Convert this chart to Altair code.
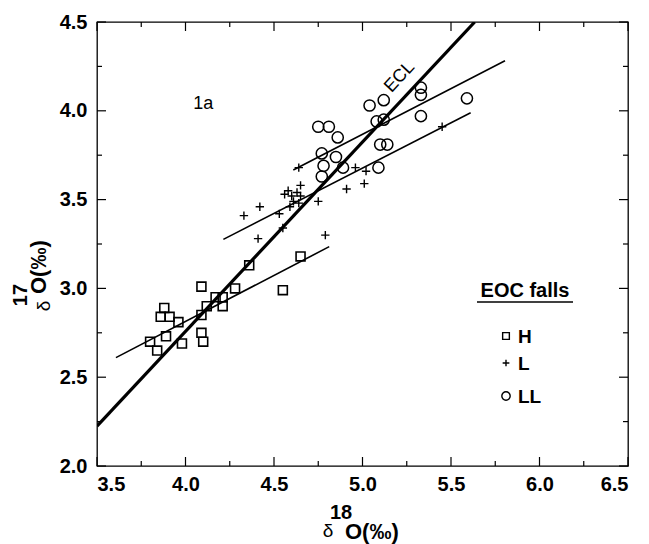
import altair as alt
import pandas as pd

# --- measured oxygen isotope data (per mil) ---
h_d18 = [3.80, 3.84, 3.88, 3.86, 3.91, 3.96, 3.89, 3.98, 4.09, 4.09, 4.09, 4.10,
         4.12, 4.17, 4.21, 4.21, 4.28, 4.36, 4.55, 4.65]
h_d17 = [2.70, 2.65, 2.89, 2.84, 2.84, 2.81, 2.73, 2.69, 3.01, 2.85, 2.75, 2.70,
         2.90, 2.95, 2.95, 2.90, 3.00, 3.13, 2.99, 3.18]

l_d18 = [4.33, 4.42, 4.41, 4.53, 4.55, 4.56, 4.58, 4.60, 4.63, 4.65, 4.61, 4.64,
         4.59, 4.65, 4.64, 4.75, 4.79, 4.91, 4.96, 5.01, 5.02, 5.45]
l_d17 = [3.41, 3.46, 3.28, 3.42, 3.34, 3.53, 3.55, 3.52, 3.54, 3.52, 3.49, 3.48,
         3.46, 3.58, 3.68, 3.49, 3.30, 3.56, 3.68, 3.59, 3.66, 3.91]

ll_d18 = [5.04, 5.12, 5.33, 5.33, 5.59, 5.08, 5.12, 5.33, 4.75, 4.81, 4.86, 5.10,
          5.14, 4.77, 4.85, 4.78, 4.77, 4.89, 5.09]
ll_d17 = [4.03, 4.06, 4.13, 4.09, 4.07, 3.94, 3.95, 3.97, 3.91, 3.91, 3.85, 3.81,
          3.81, 3.76, 3.74, 3.69, 3.63, 3.68, 3.68]

# --- fitted lines (end points) ---
ecl_d18 = [3.50, 5.634]
ecl_d17 = [2.225, 4.50]
h_fit_d18 = [3.607, 4.812]
h_fit_d17 = [2.610, 3.235]
l_fit_d18 = [4.214, 5.611]
l_fit_d17 = [3.276, 3.989]
ll_fit_d18 = [4.609, 5.805]
ll_fit_d17 = [3.667, 4.282]

# --- axis ticks ---
x_major = [3.5, 4.0, 4.5, 5.0, 5.5, 6.0, 6.5]
x_minor = [3.75, 4.25, 4.75, 5.25, 5.75, 6.25]
y_major = [2.0, 2.5, 3.0, 3.5, 4.0, 4.5]
y_minor = [2.25, 2.75, 3.25, 3.75, 4.25]

legend_title = "EOC falls"
legend_labels = ["H", "L", "LL"]

W, H = 531, 444
FONT = "Liberation Sans"
PLUS = "M-1,0L1,0M0,-1L0,1"

xscale = alt.Scale(domain=[3.5, 6.5], nice=False, zero=False)
yscale = alt.Scale(domain=[2.0, 4.5], nice=False, zero=False)
xaxis = alt.Axis(values=x_major, format=".1f", title=None, grid=False, ticks=False,
                 tickSize=0, domain=False, labelFont=FONT, labelFontSize=20,
                 labelFontWeight="bold", labelColor="black", labelPadding=8)
yaxis = alt.Axis(values=y_major, format=".1f", title=None, grid=False, ticks=False,
                 tickSize=0, domain=False, labelFont=FONT, labelFontSize=20,
                 labelFontWeight="bold", labelColor="black", labelPadding=10)


def X(field):
    return alt.X(f"{field}:Q", scale=xscale, axis=xaxis)


def Y(field):
    return alt.Y(f"{field}:Q", scale=yscale, axis=yaxis)


def pts(xs, ys):
    return pd.DataFrame({"d18": xs, "d17": ys})


layers = []

# fitted lines
for xs, ys, w in [(h_fit_d18, h_fit_d17, 1.6), (l_fit_d18, l_fit_d17, 1.6),
                  (ll_fit_d18, ll_fit_d17, 1.6), (ecl_d18, ecl_d17, 3.2)]:
    layers.append(
        alt.Chart(pts(xs, ys)).mark_line(color="black", strokeWidth=w, clip=True)
        .encode(x=X("d18"), y=Y("d17"))
    )

# data points
layers.append(alt.Chart(pts(h_d18, h_d17)).mark_point(
    shape="square", size=80, filled=False, color="black", strokeWidth=1.6, opacity=1
).encode(x=X("d18"), y=Y("d17")))
layers.append(alt.Chart(pts(l_d18, l_d17)).mark_point(
    shape=PLUS, size=70, filled=False, color="black", strokeWidth=1.4, opacity=1
).encode(x=X("d18"), y=Y("d17")))
layers.append(alt.Chart(pts(ll_d18, ll_d17)).mark_point(
    shape="circle", size=125, filled=False, color="black", strokeWidth=1.5, opacity=1
).encode(x=X("d18"), y=Y("d17")))

# inward tick marks on all four sides
for vals, ln in [(x_major, 9), (x_minor, 5)]:
    df = pd.DataFrame({"d18": vals})
    layers.append(alt.Chart(df).mark_rule(color="black", strokeWidth=1.2)
                  .encode(x=X("d18"), y=alt.value(H), y2=alt.value(H - ln)))
    layers.append(alt.Chart(df).mark_rule(color="black", strokeWidth=1.2)
                  .encode(x=X("d18"), y=alt.value(0), y2=alt.value(ln)))
for vals, ln in [(y_major, 9), (y_minor, 5)]:
    df = pd.DataFrame({"d17": vals})
    layers.append(alt.Chart(df).mark_rule(color="black", strokeWidth=1.2)
                  .encode(y=Y("d17"), x=alt.value(0), x2=alt.value(ln)))
    layers.append(alt.Chart(df).mark_rule(color="black", strokeWidth=1.2)
                  .encode(y=Y("d17"), x=alt.value(W), x2=alt.value(W - ln)))

base = alt.Chart(pd.DataFrame({"a": [0]}))

# panel label and line label
layers.append(base.mark_text(text="1a", font=FONT, fontSize=18, color="black")
              .encode(x=alt.datum(4.10, scale=xscale), y=alt.datum(4.04, scale=yscale)))
layers.append(base.mark_text(text="ECL", font=FONT, fontSize=18, color="black", angle=313)
              .encode(x=alt.datum(5.21, scale=xscale), y=alt.datum(4.19, scale=yscale)))

# legend
layers.append(base.mark_text(text=legend_title, font=FONT, fontSize=20, fontWeight="bold",
                             color="black", align="center", baseline="middle")
              .encode(x=alt.value(428), y=alt.value(269)))
layers.append(base.mark_rule(color="black", strokeWidth=1.6)
              .encode(x=alt.value(380), x2=alt.value(476), y=alt.value(280)))
for lab, shape, size, ypix in [(legend_labels[0], "square", 45, 314),
                               (legend_labels[1], PLUS, 45, 341),
                               (legend_labels[2], "circle", 70, 374)]:
    layers.append(base.mark_point(shape=shape, size=size, filled=False, color="black",
                                  strokeWidth=1.4, opacity=1)
                  .encode(x=alt.value(409), y=alt.value(ypix)))
    layers.append(base.mark_text(text=lab, font=FONT, fontSize=19, fontWeight="bold",
                                 color="black", align="left", baseline="middle")
                  .encode(x=alt.value(421), y=alt.value(ypix + 1)))

# axis titles with superscript mass numbers
layers.append(base.mark_text(text="δ", font=FONT, fontSize=19, color="black",
                             align="center", baseline="middle")
              .encode(x=alt.value(231), y=alt.value(509)))
layers.append(base.mark_text(text="18", font=FONT, fontSize=20, fontWeight="bold",
                             color="black", align="center", baseline="middle")
              .encode(x=alt.value(244), y=alt.value(491)))
layers.append(base.mark_text(text="O(‰)", font=FONT, fontSize=22, fontWeight="bold",
                             color="black", align="left", baseline="middle")
              .encode(x=alt.value(248), y=alt.value(510)))

layers.append(base.mark_text(text="δ", font=FONT, fontSize=19, color="black", angle=270,
                             align="center", baseline="middle")
              .encode(x=alt.value(-53), y=alt.value(284)))
layers.append(base.mark_text(text="17", font=FONT, fontSize=20, fontWeight="bold",
                             color="black", angle=270, align="center", baseline="middle")
              .encode(x=alt.value(-76), y=alt.value(273)))
layers.append(base.mark_text(text="O(‰)", font=FONT, fontSize=22, fontWeight="bold",
                             color="black", angle=270, align="left", baseline="middle")
              .encode(x=alt.value(-58), y=alt.value(272)))

chart = alt.layer(*layers).properties(
    width=W, height=H,
    autosize=alt.AutoSizeParams(type="none"),
    padding={"left": 97, "top": 22, "right": 21, "bottom": 78},
    background="white",
).configure_view(stroke="black", strokeWidth=1.3)

chart.save("out.html", embed_options={"renderer": "svg", "actions": False})
